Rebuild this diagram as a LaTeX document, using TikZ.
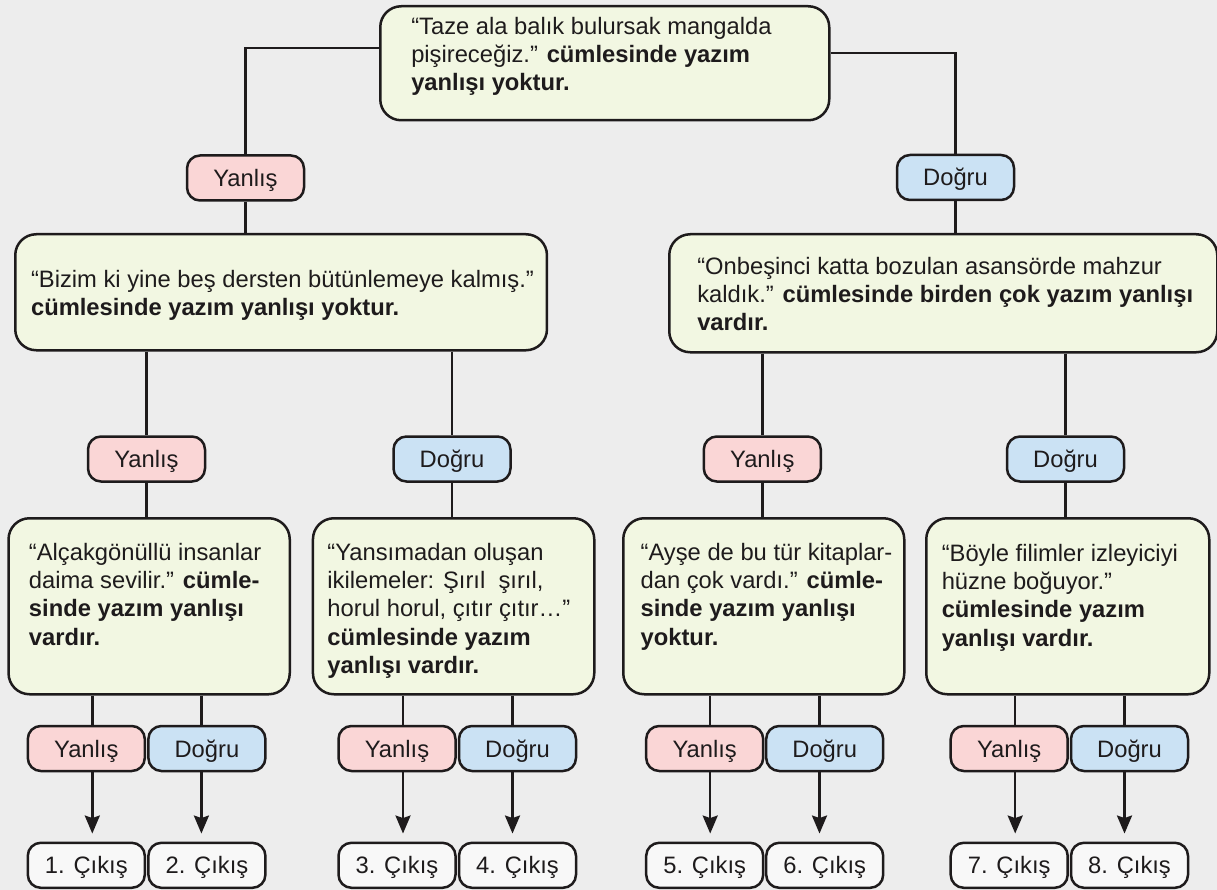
\documentclass[tikz,border=0pt]{standalone}
\usepackage{fontspec}
\setmainfont{Liberation Sans}
\usetikzlibrary{arrows.meta}
\definecolor{bg}{RGB}{237,237,237}
\definecolor{ink}{RGB}{30,27,28}
\definecolor{cgreen}{RGB}{242,247,226}
\definecolor{cpink}{RGB}{250,214,214}
\definecolor{cblue}{RGB}{203,226,244}
\definecolor{cwhite}{RGB}{248,248,248}
\hbadness=10000 \hfuzz=50pt
\newcommand\lin[1]{\mbox{#1}\par}
\newcommand\boxtext[5]{\parbox[c][#2][t]{#1}{\leftskip=#4\relax\rule{0pt}{#3}#5}}
\tikzset{
  every node/.style={text=ink, font=\fontsize{23.75pt}{28.3pt}\selectfont},
  gbox/.style={draw=ink, line width=2.5pt, fill=cgreen, rounded corners=21pt, inner sep=0pt, anchor=north west},
  lab/.style={draw=ink, line width=2.5pt, rounded corners=13pt, minimum width=117pt, minimum height=45pt, inner sep=0pt, text height=17pt, text depth=0pt},
  ybox/.style={lab, fill=cpink},
  dbox/.style={lab, fill=cblue},
  obox/.style={lab, fill=cwhite},
  conn/.style={draw=ink, line width=2.5pt},
  arr/.style={conn, -{Stealth[length=18pt,width=15pt,inset=2.5pt]}, shorten >=8pt},
}
\begin{document}
\begin{tikzpicture}[x=1pt,y=-1pt]
\useasboundingbox (0,0) rectangle (1217,890);
\fill[bg] (0,0) rectangle (1217,890);

% top question
\node[gbox] (q0) at (379,5) {\boxtext{449pt}{114pt}{28pt}{31pt}{%
\lin{“Taze ala balık bulursak mangalda}
\lin{pişireceğiz.” \textbf{cümlesinde yazım}}
\lin{\textbf{yanlışı yoktur.}}}};

% level 1 labels
\node[ybox] (y1) at (245.5,178) {Yanlış};
\node[dbox] (d1) at (955.5,177.5) {Doğru};

% level 1 boxes
\node[gbox] (qL) at (14,233) {\boxtext{531.7pt}{116pt}{53pt}{15.8pt}{%
\lin{“Bizim ki yine beş dersten bütünlemeye kalmış.”}
\lin{\textbf{cümlesinde yazım yanlışı yoktur.}}}};
\node[gbox] (qR) at (668,233) {\boxtext{548pt}{118pt}{40pt}{28pt}{%
\lin{“Onbeşinci katta bozulan asansörde mahzur}
\lin{kaldık.” \textbf{cümlesinde birden çok yazım yanlışı}}
\lin{\textbf{vardır.}}}};

% level 2 labels
\node[ybox] (y2a) at (146.5,459) {Yanlış};
\node[dbox] (d2b) at (452,459) {Doğru};
\node[ybox] (y2c) at (762.3,459) {Yanlış};
\node[dbox] (d2d) at (1065.5,459) {Doğru};

% level 2 boxes
\node[gbox] (qA) at (7.3,517) {\boxtext{281.2pt}{176pt}{42pt}{20.4pt}{%
\lin{“Alçakgönüllü insanlar}
\lin{daima sevilir.” \textbf{cümle-}}
\lin{\textbf{sinde yazım yanlışı}}
\lin{\textbf{vardır.}}}};
\node[gbox] (qB) at (311.7,517) {\boxtext{281.3pt}{176pt}{42pt}{14.5pt}{%
\lin{“Yansımadan oluşan}
\lin{ikilemeler: Şırıl\ \ şırıl,}
\lin{horul horul, çıtır çıtır…”}
\lin{\textbf{cümlesinde yazım}}
\lin{\textbf{yanlışı vardır.}}}};
\node[gbox] (qC) at (622,517) {\boxtext{281pt}{176pt}{42pt}{17.4pt}{%
\lin{“Ayşe de bu tür kitaplar-}
\lin{dan çok vardı.” \textbf{cümle-}}
\lin{\textbf{sinde yazım yanlışı}}
\lin{\textbf{yoktur.}}}};
\node[gbox] (qD) at (925,517) {\boxtext{283pt}{176pt}{43pt}{15.5pt}{%
\lin{“Böyle filimler izleyiciyi}
\lin{hüzne boğuyor.”}
\lin{\textbf{cümlesinde yazım}}
\lin{\textbf{yanlışı vardır.}}}};

% level 3 labels
\node[ybox] (y3a) at (86.3,748.5) {Yanlış};
\node[dbox] (d3a) at (206.9,748.5) {Doğru};
\node[ybox] (y3b) at (397,748.5) {Yanlış};
\node[dbox] (d3b) at (517.5,748.5) {Doğru};
\node[ybox] (y3c) at (704.7,748.5) {Yanlış};
\node[dbox] (d3c) at (824.7,748.5) {Doğru};
\node[ybox] (y3d) at (1009.2,748.5) {Yanlış};
\node[dbox] (d3d) at (1129.5,748.5) {Doğru};

% outputs
\node[obox] (o1) at (86.3,865.3) {1. Çıkış};
\node[obox] (o2) at (206.9,865.3) {2. Çıkış};
\node[obox] (o3) at (397,865.3) {3. Çıkış};
\node[obox] (o4) at (517.5,865.3) {4. Çıkış};
\node[obox] (o5) at (704.7,865.3) {5. Çıkış};
\node[obox] (o6) at (824.7,865.3) {6. Çıkış};
\node[obox] (o7) at (1009.2,865.3) {7. Çıkış};
\node[obox] (o8) at (1129.5,865.3) {8. Çıkış};

% connectors: top
\draw[conn] ([yshift=15pt]q0.west) -| (y1.north);
\draw[conn] ([yshift=10pt]q0.east) -| (d1.north);
\draw[conn] (y1.south) -- (y1.south |- qL.north);
\draw[conn] (d1.south) -- (d1.south |- qR.north);

% level 2 connectors
\foreach \l/\p/\c in {y2a/qL/qA, d2b/qL/qB, y2c/qR/qC, d2d/qR/qD}{
  \draw[conn] (\l.north |- \p.south) -- (\l.north);
  \draw[conn] (\l.south) -- (\l.south |- \c.north);
}

% level 3 connectors and arrows
\foreach \l/\p/\o/\s in {y3a/qA/o1/6, d3a/qA/o2/-5.5, y3b/qB/o3/6, d3b/qB/o4/-5, y3c/qC/o5/5.5, d3c/qC/o6/-5.2, y3d/qD/o7/6, d3d/qD/o8/-5}{
  \draw[conn] ([xshift=\s pt]\l.north |- \p.south) -- ([xshift=\s pt]\l.north);
  \draw[arr] ([xshift=\s pt]\l.south) -- ([xshift=\s pt]\l.south |- \o.north);
}
\end{tikzpicture}
\end{document}
